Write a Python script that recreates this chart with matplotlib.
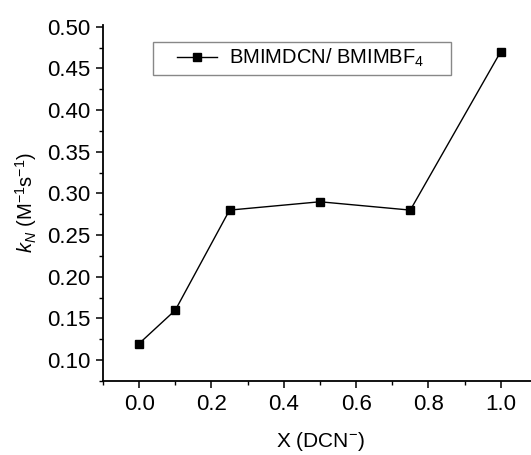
import matplotlib
matplotlib.use("Agg")
import matplotlib.pyplot as plt
from matplotlib.patches import Rectangle
from matplotlib.ticker import MultipleLocator, FormatStrFormatter

plt.rcParams["font.family"] = ["Liberation Sans", "DejaVu Sans"]
plt.rcParams["mathtext.fontset"] = "custom"
plt.rcParams["mathtext.rm"] = "Liberation Sans"
plt.rcParams["mathtext.it"] = "Liberation Sans:italic"

# mole fraction of DCN- and measured k_N
x_dcn = [0.0, 0.1, 0.25, 0.5, 0.75, 1.0]
k_n = [0.12, 0.16, 0.28, 0.29, 0.28, 0.47]
series_label = r"BMIMDCN/ BMIMBF$_4$"

fig = plt.figure(figsize=(5.31, 4.55), dpi=100)
ax = fig.add_axes([0.194, 0.1626, 0.817, 0.7824])

ax.plot(x_dcn, k_n, color="black", linewidth=1.0, marker="s", markersize=5.2,
        label=series_label)

ax.set_xlim(-0.1, 1.1)
ax.set_ylim(0.075, 0.502)
ax.xaxis.set_major_locator(MultipleLocator(0.2))
ax.xaxis.set_minor_locator(MultipleLocator(0.1))
ax.yaxis.set_major_locator(MultipleLocator(0.05))
ax.yaxis.set_minor_locator(MultipleLocator(0.025))
ax.xaxis.set_major_formatter(FormatStrFormatter("%.1f"))
ax.yaxis.set_major_formatter(FormatStrFormatter("%.2f"))

for side in ("top", "right"):
    ax.spines[side].set_visible(False)
for side in ("left", "bottom"):
    ax.spines[side].set_linewidth(1.3)

ax.tick_params(which="major", direction="out", length=5, width=1.1, labelsize=16, pad=4)
ax.tick_params(which="minor", direction="out", length=3, width=1.0)

ax.set_xlabel("X (DCN$^{-}$)", fontsize=15, labelpad=11)
ax.set_ylabel(r"$k_N$ (M$^{-1}$s$^{-1}$)", fontsize=14.5, labelpad=6)

# legend without its own frame, boxed by a wider, flatter rectangle like the original
leg = ax.legend(loc="center left", bbox_to_anchor=(0.170, 0.907), fontsize=14.5,
                frameon=False, handlelength=2.0, borderpad=0, borderaxespad=0,
                handletextpad=0.6)
ax.add_patch(Rectangle((0.1153, 0.8596), 0.687, 0.0927, transform=ax.transAxes,
                       fill=False, edgecolor="#888888", linewidth=1.0, clip_on=False))

fig.savefig("out.png", dpi=100)
